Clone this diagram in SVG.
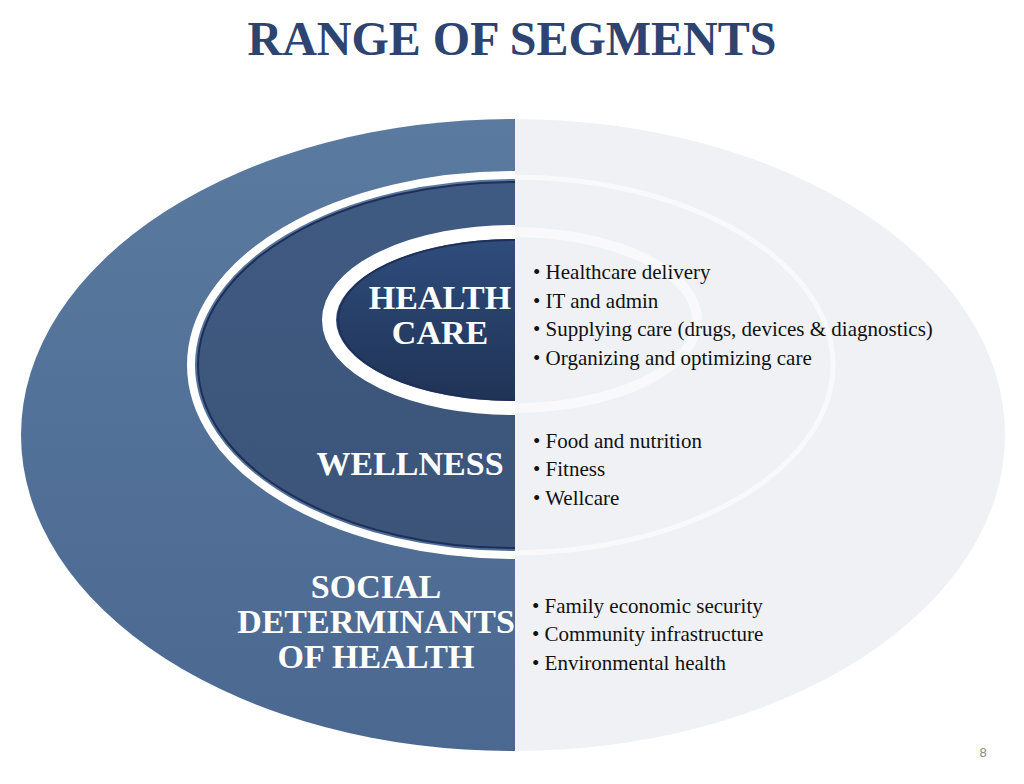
<svg xmlns="http://www.w3.org/2000/svg" width="1024" height="784" viewBox="0 0 1024 784">
<style>
.t{font-family:"Liberation Serif",serif;fill:#2e4470;font-weight:bold}
.w{font-family:"Liberation Serif",serif;fill:#fff;font-weight:bold;text-anchor:middle}
.b{font-family:"Liberation Serif",serif;fill:#111;font-size:21px}
</style>
<defs>
<linearGradient id="g1" x1="0" y1="0" x2="0" y2="1"><stop offset="0" stop-color="#5b7aa0"/><stop offset="1" stop-color="#4a6890"/></linearGradient>
<linearGradient id="g2" x1="0" y1="0" x2="0" y2="1"><stop offset="0" stop-color="#3f5a82"/><stop offset="1" stop-color="#3c5478"/></linearGradient>
<linearGradient id="g3" x1="0" y1="0" x2="0" y2="1"><stop offset="0" stop-color="#2f4c7c"/><stop offset="1" stop-color="#1f3355"/></linearGradient>
<clipPath id="L"><rect x="0" y="0" width="515" height="784"/></clipPath>
<clipPath id="R"><rect x="515" y="0" width="509" height="784"/></clipPath>
</defs>
<rect width="1024" height="784" fill="#fff"/>
<text class="t" x="512" y="55" font-size="48" text-anchor="middle">RANGE OF SEGMENTS</text>
<g id="outer">
<ellipse cx="513" cy="435" rx="492" ry="316" fill="url(#g1)" clip-path="url(#L)"/>
<ellipse cx="513" cy="435" rx="492" ry="316" fill="#eff1f4" clip-path="url(#R)"/>
</g>
<g id="middle">
<ellipse cx="513" cy="365" rx="322" ry="190" fill="none" stroke="#fff" stroke-width="8" clip-path="url(#L)"/>
<ellipse cx="513" cy="365" rx="315" ry="183" fill="url(#g2)" stroke="#1e2f5a" stroke-width="2" clip-path="url(#L)"/>
<ellipse cx="513" cy="365" rx="320" ry="188" fill="none" stroke="#fff" stroke-width="5" opacity="0.6" clip-path="url(#R)"/>
</g>
<g id="inner">
<ellipse cx="513" cy="320" rx="184" ry="88" fill="none" stroke="#fff" stroke-width="14" clip-path="url(#L)"/>
<ellipse cx="513" cy="320" rx="175" ry="80" fill="url(#g3)" stroke="#1e2f5a" stroke-width="2" clip-path="url(#L)"/>
<ellipse cx="513" cy="320" rx="184" ry="88" fill="none" stroke="#fff" stroke-width="10" opacity="0.6" clip-path="url(#R)"/>
</g>
<g id="labels">
<text class="w" x="440" y="309" font-size="34">HEALTH</text>
<text class="w" x="440" y="344" font-size="34">CARE</text>
<text class="w" x="410" y="475" font-size="34">WELLNESS</text>
<text class="w" x="376" y="598" font-size="34">SOCIAL</text>
<text class="w" x="376" y="633" font-size="34">DETERMINANTS</text>
<text class="w" x="376" y="668" font-size="34">OF HEALTH</text>
</g>
<g id="bullets">
<text class="b" x="533" y="279">• Healthcare delivery</text>
<text class="b" x="533" y="308">• IT and admin</text>
<text class="b" x="533" y="336">• Supplying care (drugs, devices &amp; diagnostics)</text>
<text class="b" x="533" y="365">• Organizing and optimizing care</text>
<text class="b" x="533" y="448">• Food and nutrition</text>
<text class="b" x="533" y="476">• Fitness</text>
<text class="b" x="533" y="505">• Wellcare</text>
<text class="b" x="532" y="613">• Family economic security</text>
<text class="b" x="532" y="641">• Community infrastructure</text>
<text class="b" x="532" y="670">• Environmental health</text>
</g>
<text x="983" y="757" font-family="Liberation Sans,sans-serif" font-size="13" fill="#888" text-anchor="middle">8</text>
</svg>
